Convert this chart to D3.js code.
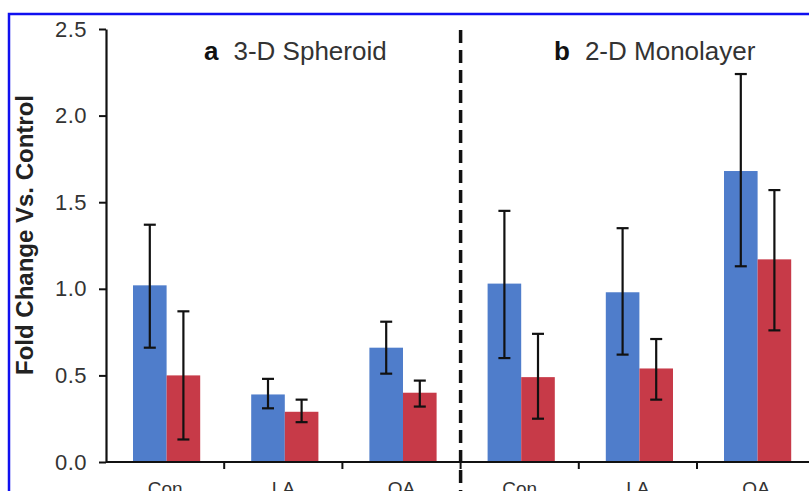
<!DOCTYPE html>
<html>
<head>
<meta charset="utf-8">
<script src="https://cdn.jsdelivr.net/npm/d3@7"></script>
<style>
  body { margin: 0; background: #fff; }
  svg { display: block; font-family: Arial, "Liberation Sans", sans-serif; }
</style>
</head>
<body>
<div id="chart"></div>
<script>
// data
var categories = ["Con", "LA", "OA", "Con ", "LA ", "OA "]
var series = ["blue", "red"]
var blueMean = [1.02, 0.39, 0.66, 1.03, 0.98, 1.68]
var blueLow  = [0.66, 0.31, 0.51, 0.60, 0.62, 1.13]
var blueHigh = [1.37, 0.48, 0.81, 1.45, 1.35, 2.24]
var redMean  = [0.50, 0.29, 0.40, 0.49, 0.54, 1.17]
var redLow   = [0.13, 0.23, 0.32, 0.25, 0.36, 0.76]
var redHigh  = [0.87, 0.36, 0.47, 0.74, 0.71, 1.57]
var yTicks = [0, 0.5, 1.0, 1.5, 2.0, 2.5]
var panelTitles = [{ letter: "a", text: "3-D Spheroid" }, { letter: "b", text: "2-D Monolayer" }]

var width = 809, height = 491
var margin = { top: 29, left: 106, bottom: 29 }
var colors = { blue: "#4f7dcb", red: "#c73a48" }

var svg = d3.select("#chart").append("svg")
    .attr("width", width)
    .attr("height", height);

// blue frame around the figure
svg.append("rect")
    .attr("x", 9).attr("y", 14)
    .attr("width", 840).attr("height", 520)
    .attr("fill", "none")
    .attr("stroke", "#1010f0")
    .attr("stroke-width", 2.5);

var x = d3.scaleBand()
    .domain(categories)
    .range([margin.left, margin.left + 118.2 * 6]);

var x1 = d3.scaleBand()
    .domain(series)
    .range([27, x.bandwidth() - 24]);

var y = d3.scaleLinear()
    .domain([0, 2.5])
    .range([462, margin.top]);

var rows = []
categories.forEach(function(c, i) {
    rows.push({ cat: c, s: "blue", v: blueMean[i], lo: blueLow[i], hi: blueHigh[i] });
    rows.push({ cat: c, s: "red", v: redMean[i], lo: redLow[i], hi: redHigh[i] });
});

// bars
svg.append("g").selectAll("rect")
    .data(rows).enter()
    .append("rect")
        .attr("x", function(d) { return x(d.cat) + x1(d.s); })
        .attr("y", function(d) { return y(d.v); })
        .attr("width", x1.bandwidth())
        .attr("height", function(d) { return y(0) - y(d.v); })
        .attr("fill", function(d) { return colors[d.s]; });

// error bars
var err = svg.append("g").attr("stroke", "#111").attr("stroke-width", 2.2);
rows.forEach(function(d) {
    var cx = x(d.cat) + x1(d.s) + x1.bandwidth() / 2;
    err.append("line").attr("x1", cx).attr("x2", cx).attr("y1", y(d.hi)).attr("y2", y(d.lo));
    err.append("line").attr("x1", cx - 6).attr("x2", cx + 6).attr("y1", y(d.hi)).attr("y2", y(d.hi));
    err.append("line").attr("x1", cx - 6).attr("x2", cx + 6).attr("y1", y(d.lo)).attr("y2", y(d.lo));
});

// y axis
var yAxis = svg.append("g")
    .attr("transform", "translate(" + margin.left + ",0)")
    .call(d3.axisLeft(y).tickValues(yTicks).tickFormat(d3.format(".1f")).tickSize(7).tickSizeOuter(0));
yAxis.select(".domain").attr("stroke-width", 2.2).attr("stroke", "#111");
yAxis.selectAll(".tick line").attr("stroke-width", 2).attr("stroke", "#111");
yAxis.selectAll("text")
    .attr("font-size", "22px")
    .attr("letter-spacing", "0.5px")
    .attr("fill", "#333")
    .attr("x", -19)
    .style("font-family", "Arial, 'Liberation Sans', sans-serif");

// x axis: ticks sit at category boundaries
var xAxis = svg.append("g").attr("transform", "translate(0," + y(0) + ")");
xAxis.append("line")
    .attr("x1", margin.left).attr("x2", width + 10)
    .attr("stroke", "#111").attr("stroke-width", 2.2);
xAxis.selectAll(".bnd")
    .data(categories.slice(1)).enter()
    .append("line")
        .attr("x1", function(d) { return x(d); })
        .attr("x2", function(d) { return x(d); })
        .attr("y1", 0).attr("y2", 7)
        .attr("stroke", "#111").attr("stroke-width", 2);
xAxis.selectAll(".lab")
    .data(categories).enter()
    .append("text")
        .attr("x", function(d) { return x(d) + x.bandwidth() / 2; })
        .attr("y", 33)
        .attr("text-anchor", "middle")
        .attr("font-size", "19px")
        .attr("fill", "#333")
        .text(function(d) { return d.trim(); });

// dashed divider between panels
svg.append("line")
    .attr("x1", x(categories[3])).attr("x2", x(categories[3]))
    .attr("y1", 30).attr("y2", height)
    .attr("stroke", "#111")
    .attr("stroke-width", 3.5)
    .attr("stroke-dasharray", "13,7");

// y label
svg.append("text")
    .attr("transform", "translate(33," + 235 + ") rotate(-90)")
    .attr("text-anchor", "middle")
    .attr("font-size", "24px")
    .attr("font-weight", "bold")
    .attr("fill", "#222")
    .text("Fold Change Vs. Control");

// panel titles
var titleX = [204, 554]
panelTitles.forEach(function(t, i) {
    var tt = svg.append("text")
        .attr("x", titleX[i]).attr("y", 60)
        .attr("font-size", "26px")
        .attr("fill", "#333");
    tt.append("tspan").attr("font-weight", "bold").attr("fill", "#111").text(t.letter);
    tt.append("tspan").attr("dx", 15).text(t.text);
});
</script>
</body>
</html>
